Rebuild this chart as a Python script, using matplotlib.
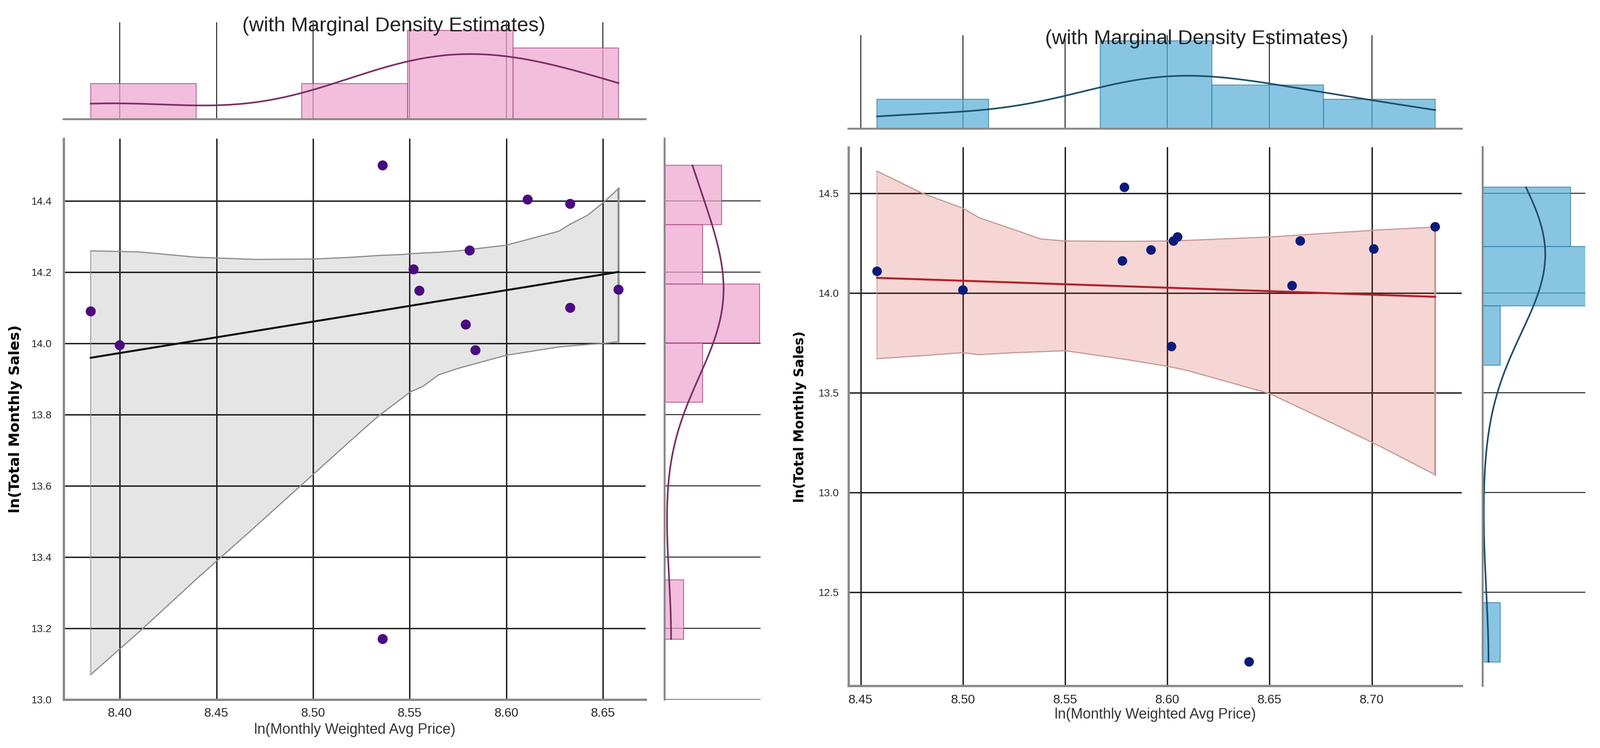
import numpy as np
import matplotlib
matplotlib.use("Agg")
import matplotlib.pyplot as plt

plt.rcParams['font.family'] = ['Liberation Sans Narrow', 'Liberation Sans', 'DejaVu Sans']

# ---- left chart: points ----
left_price = [8.385, 8.400, 8.536, 8.536, 8.552, 8.555, 8.579, 8.581, 8.584, 8.611, 8.633, 8.633, 8.658]
left_sales = [14.090, 13.995, 14.500, 13.170, 14.208, 14.148, 14.053, 14.261, 13.981, 14.404, 14.392, 14.100, 14.151]

# confidence band of the fit (bootstrap band)
left_band_x = [8.385, 8.41, 8.44, 8.47, 8.50, 8.52, 8.534, 8.547, 8.55, 8.557, 8.565, 8.575, 8.60, 8.627, 8.633, 8.642, 8.65, 8.658]
left_band_hi = [14.26, 14.257, 14.242, 14.236, 14.237, 14.242, 14.247, 14.25, 14.252, 14.254, 14.256, 14.26, 14.276, 14.315, 14.335, 14.36, 14.395, 14.435]
left_band_lo = [13.07, 13.19, 13.34, 13.485, 13.632, 13.73, 13.797, 13.85, 13.863, 13.88, 13.912, 13.93, 13.967, 13.99, 13.993, 13.997, 14.0, 14.005]

left_xticks = [8.40, 8.45, 8.50, 8.55, 8.60, 8.65]
left_yticks = [13.0, 13.2, 13.4, 13.6, 13.8, 14.0, 14.2, 14.4]

# ---- right chart ----
right_price = [8.458, 8.500, 8.579, 8.578, 8.592, 8.603, 8.605, 8.602, 8.661, 8.665, 8.701, 8.731, 8.640]
right_sales = [14.108, 14.014, 14.529, 14.160, 14.215, 14.260, 14.280, 13.731, 14.036, 14.260, 14.220, 14.331, 12.150]

right_band_x = [8.458, 8.48, 8.50, 8.508, 8.525, 8.538, 8.55, 8.579, 8.60, 8.61, 8.65, 8.68, 8.703, 8.731]
right_band_hi = [14.61, 14.50, 14.424, 14.376, 14.317, 14.27, 14.26, 14.258, 14.26, 14.263, 14.28, 14.30, 14.315, 14.33]
right_band_lo = [13.67, 13.685, 13.70, 13.69, 13.70, 13.705, 13.71, 13.667, 13.632, 13.61, 13.495, 13.35, 13.236, 13.088]

right_xticks = [8.45, 8.50, 8.55, 8.60, 8.65, 8.70]
right_yticks = [12.5, 13.0, 13.5, 14.0, 14.5]

title_text = "(with Marginal Density Estimates)"
xlabel_text = "ln(Monthly Weighted Avg Price)"
ylabel_text = "ln(Total Monthly Sales)"

W, H = 3368, 1575


def rect(x0, y0, x1, y1):
    # pixel box (top-left origin) -> figure fraction
    return [x0 / W, 1 - y1 / H, (x1 - x0) / W, (y1 - y0) / H]


def kde_curve(vals, nbins):
    v = np.asarray(vals)
    bw = v.std(ddof=1) * len(v) ** (-1 / 5)
    grid = np.linspace(v.min(), v.max(), 200)
    dens = np.exp(-0.5 * ((grid[:, None] - v[None, :]) / bw) ** 2).sum(axis=1)
    dens = dens / (len(v) * bw * np.sqrt(2 * np.pi))
    binw = (v.max() - v.min()) / nbins
    return grid, dens * len(v) * binw


def clean(ax, grid_axis, lw):
    for s in ax.spines.values():
        s.set_visible(False)
    ax.tick_params(length=0)
    ax.set_axisbelow(True)
    ax.grid(True, axis=grid_axis, color='#262626', linewidth=lw)


def joint(fig, boxes, px, sy, band, cfg):
    main_box, top_box, side_box = boxes
    ax = fig.add_axes(rect(*main_box))
    ax_t = fig.add_axes(rect(*top_box), sharex=ax)
    ax_s = fig.add_axes(rect(*side_box), sharey=ax)

    clean(ax, 'both', 2.2)
    for side in ['left', 'bottom']:
        ax.spines[side].set_visible(True)
        ax.spines[side].set_color('#8a8a8a')
        ax.spines[side].set_linewidth(3.5)

    bx, blo, bhi = band
    ax.fill_between(bx, blo, bhi, color=cfg['band'], alpha=cfg['band_alpha'], linewidth=0, zorder=2)
    ax.plot(bx, bhi, color=cfg['band_edge'], lw=1.8, zorder=2)
    ax.plot(bx, blo, color=cfg['band_edge'], lw=1.8, zorder=2)
    ax.plot([bx[-1], bx[-1]], [blo[-1], bhi[-1]], color=cfg['band_edge'], lw=3, zorder=2)
    ax.plot([bx[0], bx[0]], [blo[0], bhi[0]], color=cfg['band_edge'], lw=1.2, zorder=2)

    slope, icpt = np.polyfit(px, sy, 1)
    xs = np.linspace(min(px), max(px), 50)
    ax.plot(xs, slope * xs + icpt, color=cfg['line'], lw=3, zorder=3)
    ax.scatter(px, sy, s=cfg['dot'], color=cfg['pts'], edgecolor='none', zorder=4)

    ax.set_xlim(cfg['xlim'])
    ax.set_ylim(cfg['ylim'])
    ax.set_xticks(cfg['xticks'])
    ax.set_xticklabels(['%.2f' % t for t in cfg['xticks']])
    ax.set_yticks(cfg['yticks'])
    ax.set_yticklabels(['%.1f' % t for t in cfg['yticks']])
    ax.tick_params(axis='x', labelsize=19, pad=cfg['xpad'], labelcolor='#262626')
    ax.tick_params(axis='y', labelsize=16, pad=cfg['ypad'], labelcolor='#262626')

    ax.set_xlabel(xlabel_text, fontsize=22, color='#333333')
    ax.xaxis.set_label_coords(0.5, cfg['xlab_y'])
    ax.xaxis.label.set_va('center')
    ax.set_ylabel(ylabel_text, fontsize=cfg['ylab_fs'], family=['DejaVu Sans'], fontweight='bold', color='black')
    ax.yaxis.set_label_coords(cfg['ylab_x'], 0.5)
    ax.yaxis.label.set_va('center')

    # top marginal
    clean(ax_t, 'x', 1.5)
    ax_t.spines['bottom'].set_visible(True)
    ax_t.spines['bottom'].set_color('#8a8a8a')
    ax_t.spines['bottom'].set_linewidth(3)
    ax_t.hist(px, bins=5, color=cfg['hist'], alpha=0.72, edgecolor=cfg['hist_edge'], linewidth=1.5)
    gx, gd = kde_curve(px, 5)
    ax_t.plot(gx, gd, color=cfg['kde'], lw=2.5)
    ax_t.set_ylim(0, cfg['top_ymax'])
    ax_t.tick_params(labelbottom=False, labelleft=False)

    # side marginal
    clean(ax_s, 'y', 1.5)
    ax_s.spines['left'].set_visible(True)
    ax_s.spines['left'].set_color('#8a8a8a')
    ax_s.spines['left'].set_linewidth(3)
    ax_s.hist(sy, bins=8, orientation='horizontal', color=cfg['hist'], alpha=0.72,
              edgecolor=cfg['hist_edge'], linewidth=1.5)
    gy, gd = kde_curve(sy, 8)
    ax_s.plot(gd, gy, color=cfg['kde'], lw=2.5)
    ax_s.set_xlim(0, cfg['side_xmax'])
    ax_s.tick_params(labelbottom=False, labelleft=False)
    return ax


fig = plt.figure(figsize=(W / 100, H / 100), dpi=100)

left_cfg = dict(xlim=(8.371, 8.672), ylim=(13.0, 14.575), xticks=left_xticks, yticks=left_yticks,
                band='black', band_alpha=0.1, band_edge='#8c8c8c', line='#111111', pts='#4b0a80', dot=230,
                hist='#eea6cf', hist_edge='#a8487f', kde='#7a2e62', top_ymax=5.45, side_xmax=5.05,
                xpad=12, ypad=18, xlab_y=-0.054, ylab_x=-0.083, ylab_fs=22)
right_cfg = dict(xlim=(8.444, 8.744), ylim=(12.03, 14.73), xticks=right_xticks, yticks=right_yticks,
                 band='#d0352b', band_alpha=0.2, band_edge='#c49a97', line='#b3202a', pts='#0b1a7a', dot=210,
                 hist='#5aafd8', hist_edge='#2f7fa8', kde='#1d4f6a', top_ymax=6.4, side_xmax=5.85,
                 xpad=13, ypad=15, xlab_y=-0.054, ylab_x=-0.079, ylab_fs=20)

joint(fig, [(134, 292, 1359, 1473), (134, 47, 1359, 251), (1399, 292, 1601, 1473)],
      left_price, left_sales, (left_band_x, left_band_lo, left_band_hi), left_cfg)
joint(fig, [(1786, 310, 3077, 1444), (1786, 74, 3077, 271), (3121, 310, 3337, 1444)],
      right_price, right_sales, (right_band_x, right_band_lo, right_band_hi), right_cfg)

fig.text(829 / W, 1 - 55 / H, title_text, ha='center', va='center', fontsize=31, color='#222222')
fig.text(2519 / W, 1 - 82 / H, title_text, ha='center', va='center', fontsize=31, color='#222222')

fig.savefig('out.png', dpi=100, facecolor='white')
